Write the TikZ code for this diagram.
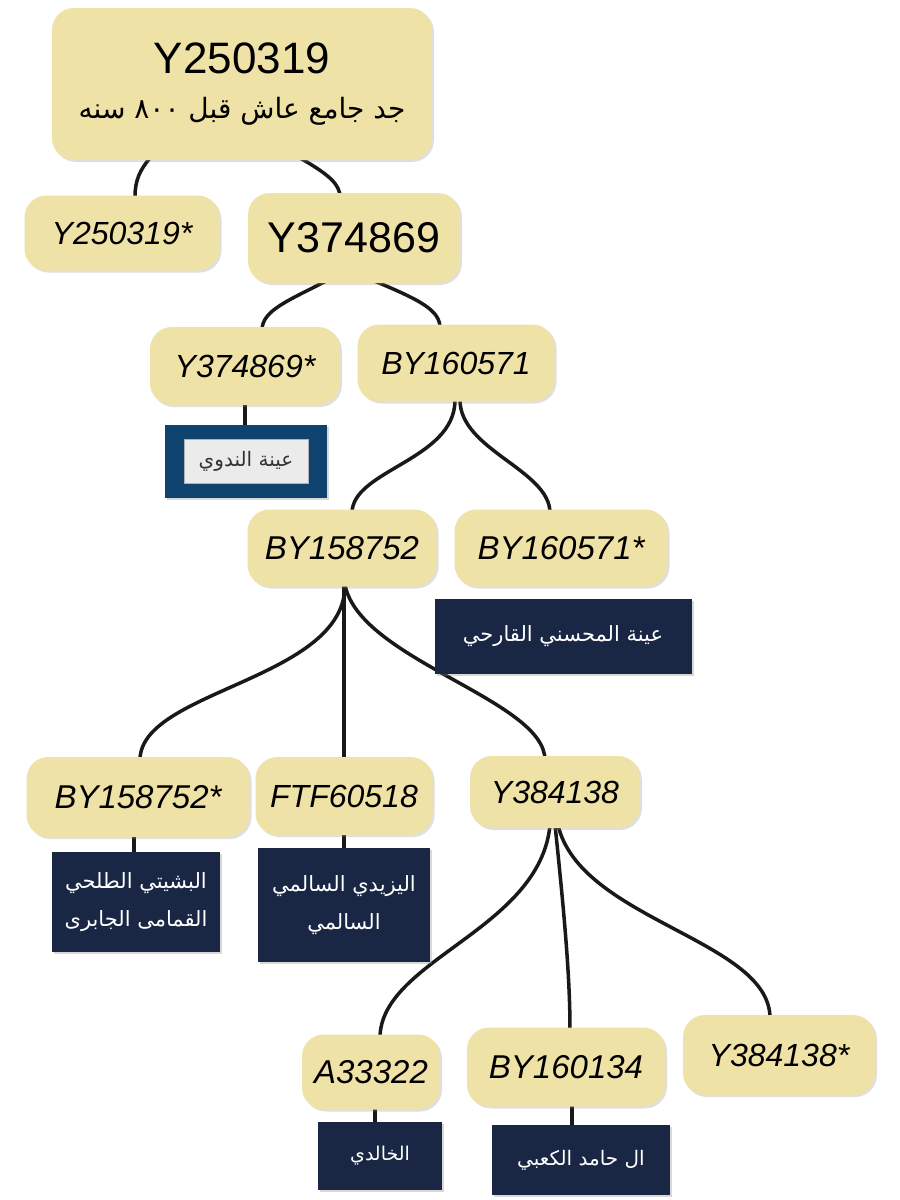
\documentclass[tikz,border=0pt]{standalone}
\usepackage{fontspec}
\setmainfont{Liberation Sans}
\newfontfamily\arabicfont[Script=Arabic]{DejaVu Sans}
\TeXXeTstate=1
\usetikzlibrary{shadows}
\definecolor{beige}{HTML}{EFE2A6}
\definecolor{navy}{HTML}{1A2744}
\definecolor{nblue}{HTML}{0E4370}
\newcommand{\fs}[1]{\fontsize{#1}{#1}\selectfont}
\newcommand{\ar}[1]{{\arabicfont\beginR #1\endR}}
\tikzset{
 hap/.style={fill=beige, rounded corners=22pt, inner sep=0pt, drop shadow={opacity=0.25,shadow xshift=2pt,shadow yshift=-2pt}},
 sam/.style={fill=navy, text=white, inner sep=0pt, align=center, drop shadow={opacity=0.3,shadow xshift=2pt,shadow yshift=-2pt}},
 lk/.style={line width=3.5pt, black!90}
}
\begin{document}
\begin{tikzpicture}[x=1pt,y=-1pt]
\useasboundingbox (0,0) rectangle (900,1200);
\fill[white] (0,0) rectangle (900,1200);
% edges
\draw[lk] (150,158) .. controls (140,170) and (135,180) .. (135,197);
\draw[lk] (300,158) .. controls (330,175) and (340,185) .. (340,197);
\draw[lk] (328,280) .. controls (290,300) and (262,310) .. (262,330);
\draw[lk] (372,280) .. controls (420,300) and (440,310) .. (440,328);
\draw[lk] (245,403) -- (245,427);
\draw[lk] (455,400) .. controls (455,460) and (352,470) .. (352,513);
\draw[lk] (460,400) .. controls (460,450) and (550,470) .. (550,513);
\draw[lk] (345,585) .. controls (345,680) and (140,690) .. (140,760);
\draw[lk] (344,585) -- (344,760);
\draw[lk] (345,585) .. controls (360,660) and (545,700) .. (545,760);
\draw[lk] (134,835) -- (134,855);
\draw[lk] (344,833) -- (344,851);
\draw[lk] (550,825) .. controls (540,930) and (380,960) .. (380,1038);
\draw[lk] (555,825) .. controls (565,920) and (570,980) .. (570,1030);
\draw[lk] (558,825) .. controls (580,920) and (770,940) .. (770,1018);
\draw[lk] (375,1108) -- (375,1125);
\draw[lk] (572,1105) -- (572,1128);
% haplogroup nodes
\node[hap, minimum width=380pt, minimum height=152pt, align=center] (root) at (242,84)
 {\fs{44}Y250319\\[22pt]\fs{28}\ar{جد جامع عاش قبل ٨٠٠ سنه}};
\node[hap, minimum width=195pt, minimum height=75pt] (a1) at (122,233) {\fs{32}\itshape Y250319*};
\node[hap, minimum width=212pt, minimum height=90pt] (a2) at (354,238) {\fs{43}Y374869};
\node[hap, minimum width=190pt, minimum height=78pt] (b1) at (245,366) {\fs{32}\itshape Y374869*};
\node[hap, minimum width=197pt, minimum height=77pt] (b2) at (456,363) {\fs{32}\itshape BY160571};
\node[hap, minimum width=189pt, minimum height=77pt] (c1) at (342,548) {\fs{33}\itshape BY158752};
\node[hap, minimum width=213pt, minimum height=77pt] (c2) at (561,548) {\fs{33}\itshape BY160571*};
\node[hap, minimum width=223pt, minimum height=80pt] (d1) at (138,797) {\fs{33}\itshape BY158752*};
\node[hap, minimum width=177pt, minimum height=78pt] (d2) at (344,796) {\fs{32}\itshape FTF60518};
\node[hap, minimum width=170pt, minimum height=72pt] (d3) at (555,792) {\fs{32}\itshape Y384138};
\node[hap, minimum width=138pt, minimum height=75pt] (e1) at (371,1072) {\fs{33}\itshape A33322};
\node[hap, minimum width=198pt, minimum height=79pt] (e2) at (566,1067) {\fs{33}\itshape BY160134};
\node[hap, minimum width=192pt, minimum height=80pt] (e3) at (779,1055) {\fs{32}\itshape Y384138*};
% sample nodes
\node[fill=nblue, minimum width=162pt, minimum height=73pt, drop shadow={opacity=0.3,shadow xshift=2pt,shadow yshift=-2pt}] (s1) at (246,461) {};
\node[fill=black!8, draw=black!30, minimum width=124pt, minimum height=44pt, text=black!80] (s1i) at (s1) {\fs{20}\ar{عينة الندوي}};
\node[sam, minimum width=257pt, minimum height=75pt] (s2) at (563,636) {\fs{21}\ar{عينة المحسني القارحي}};
\node[sam, minimum width=168pt, minimum height=100pt] (s3) at (136,902) {\fs{21}\ar{البشيتي الطلحي}\\[16pt]\fs{21}\ar{القمامى الجابرى}};
\node[sam, minimum width=172pt, minimum height=114pt] (s4) at (344,905) {\fs{21}\ar{اليزيدي السالمي}\\[16pt]\fs{21}\ar{السالمي}};
\node[sam, minimum width=124pt, minimum height=68pt] (s5) at (380,1156) {\fs{19}\ar{الخالدي}};
\node[sam, minimum width=178pt, minimum height=70pt] (s6) at (581,1160) {\fs{20}\ar{ال حامد الكعبي}};
\end{tikzpicture}
\end{document}
